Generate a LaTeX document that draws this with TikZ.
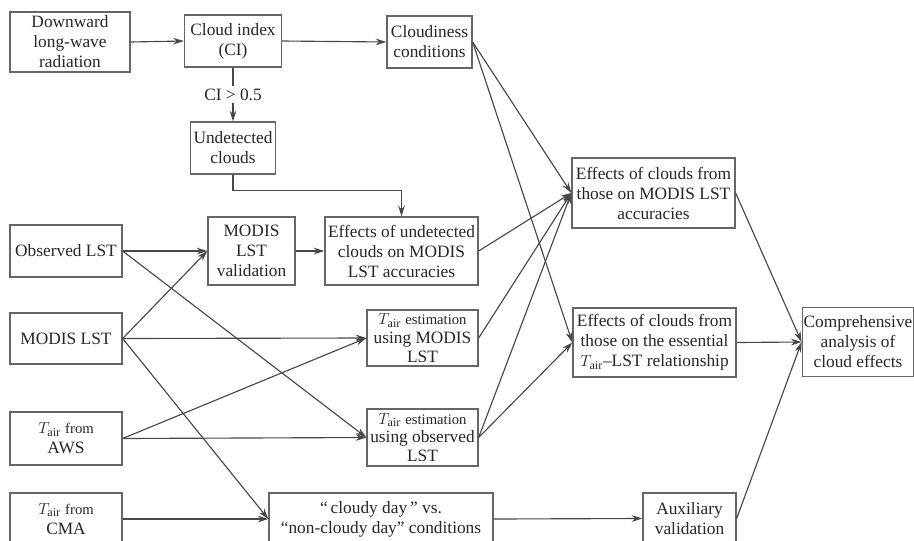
\documentclass[tikz,border=0pt]{standalone}
\usepackage{fontspec}
\setmainfont{Liberation Serif}
\usetikzlibrary{arrows.meta}
\newcommand{\Tair}{$T_{\mathrm{air}}$}
\newcommand{\smallword}[1]{{\fontsize{11}{14}\selectfont #1}}

\begin{document}
\begin{tikzpicture}[x=0.75pt,y=-0.75pt,
  every node/.style={draw=black!60,line width=1pt,align=center,inner xsep=1pt,inner ysep=0pt,text=black!85,font=\fontsize{13}{15}\selectfont},
  boxsize/.style 2 args={minimum width=#1*0.75pt,minimum height=#2*0.75pt},
  arr/.style={draw=black!72,line width=0.85pt,-{Stealth[length=8pt,width=5pt]}}]
\useasboundingbox (0,0) rectangle (914,540);
\clip (0,0) rectangle (914,540);
% top
\node[boxsize={120}{60}] (dlw) at (70,42) {Downward\\long-wave\\radiation};
\node[boxsize={97}{52}] (ci) at (233,41) {Cloud index\\(CI)};
\node[boxsize={85}{52}] (cc) at (429.5,42) {Cloudiness\\conditions};
\node[boxsize={85}{52}] (und) at (233,148) {Undetected\\clouds};
%-------------
\node[boxsize={112}{52}] (obs) at (66,251) {Observed LST};
\node[boxsize={87}{68}] (val) at (251.5,251) {MODIS\\LST\\validation};
\node[boxsize={153}{68}] (effund) at (401.5,251) {Effects of undetected\\clouds on MODIS\\LST accuracies};
\node[boxsize={112}{51}] (mlst) at (66,338.5) {MODIS LST};
\node[boxsize={111}{56},font=\fontsize{13}{14}\selectfont] (estm) at (422.5,338) {\Tair\ \smallword{estimation}\\using MODIS\\LST};
\node[boxsize={112}{53}] (aws) at (66,438.5) {\Tair\ \smallword{from}\\AWS};
\node[boxsize={111}{57},font=\fontsize{13}{14}\selectfont] (esto) at (422.5,437.5) {\Tair\ \smallword{estimation}\\using observed\\LST};
\node[boxsize={112}{52}] (cma) at (66,519) {\Tair\ \smallword{from}\\CMA};
\node[boxsize={224}{52}] (cday) at (381,519) {“\,cloudy day\,”\ vs.\\“non-cloudy day” conditions};
\node[boxsize={93}{51}] (aux) at (689.5,518.5) {Auxiliary\\validation};
%------------
\node[boxsize={163}{70}] (effacc) at (653.5,193) {Effects of clouds from\\those on MODIS LST\\accuracies};
\node[boxsize={163}{69}] (efflst) at (654.5,342.5) {Effects of clouds from\\those on the essential\\\Tair--LST relationship};
\node[boxsize={110}{69}] (comp) at (858,342) {Comprehensive\\analysis of\\cloud effects};
%------------
\draw[arr] (ci) -- node[draw=none,fill=white,inner sep=2pt] (cilbl) {CI > 0.5} (und);
\draw[arr] (und.south) -- ++(0,16) -| (effund.north);
\foreach \from/\to in {dlw/ci,ci/cc,obs/val,mlst/val,val/effund,
mlst/estm,aws/estm,obs/esto,aws/esto,mlst/cday,cma/cday,cday/aux,
cc/effacc,cc/efflst,effund/effacc,estm/effacc,esto/effacc,esto/efflst,
effacc/comp,efflst/comp,aux/comp}
\draw[arr] (\from.east) -- (\to.west);
\end{tikzpicture}
\end{document}
